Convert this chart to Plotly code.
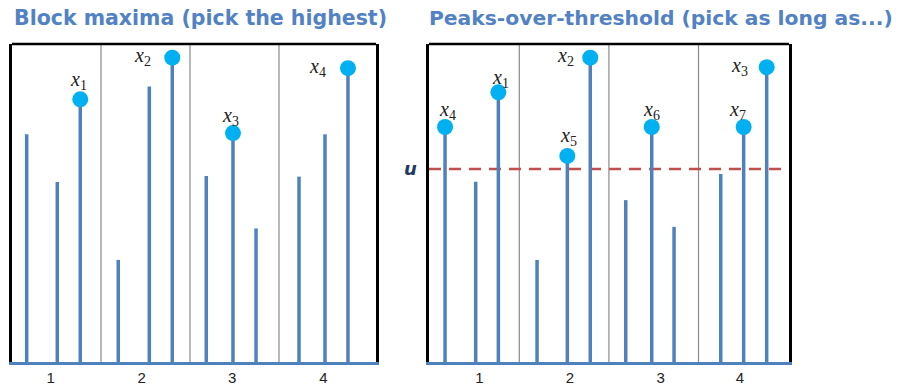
import plotly.graph_objects as go

# ---------------- data ----------------
block_labels = ["1", "2", "3", "4"]
block_dividers = [1.5, 2.5, 3.5]

left_times = [0.665, 1.009, 1.267, 1.694, 2.043, 2.301, 2.683, 2.983, 3.242, 3.725, 4.017, 4.275]
left_values = [7.16, 5.66, 8.26, 3.21, 8.66, 9.57, 5.85, 7.20, 4.20, 5.83, 7.16, 9.24]
left_peak_idx = [2, 5, 7, 11]
left_peak_names = ["1", "2", "3", "4"]

right_times = [0.671, 1.013, 1.266, 1.698, 2.036, 2.292, 2.688, 2.978, 3.227, 3.748, 4.004, 4.261]
right_values = [7.39, 5.67, 8.48, 3.21, 6.48, 9.57, 5.09, 7.39, 4.25, 5.91, 7.39, 9.27]
right_peak_idx = [0, 2, 4, 5, 7, 10, 11]
right_peak_names = ["4", "1", "5", "2", "6", "7", "3"]
threshold_u = 6.07

left_title = "Block maxima (pick the highest)"
right_title = "Peaks-over-threshold (pick as long as...)"

# ---------------- layout helpers (positions / styles) ----------------
left_tickpos = [0.935, 1.957, 2.975, 3.998]
right_tickpos = [1.054, 2.066, 3.078, 3.963]
left_label_shift = [(-2, 19), (-30, 1), (-2, 17), (-30, 1)]
right_label_shift = [(2, 17), (2, 14), (1, 19), (-25, 1), (0, 17), (-6, 17), (-27, 1)]

STEM = "#4F81BD"
DOT = "#00B0F0"
TITLE = "#5282C4"

fig = go.Figure()


def stems(times, values, xa, ya):
    xs, ys = [], []
    for t, v in zip(times, values):
        xs += [t, t, None]
        ys += [0, v, None]
    fig.add_trace(go.Scatter(x=xs, y=ys, mode="lines", line=dict(color=STEM, width=3.5),
                             xaxis=xa, yaxis=ya, hoverinfo="skip", showlegend=False))


def peaks(times, values, idx, names, shifts, xa, ya):
    px = [times[i] for i in idx]
    py = [values[i] for i in idx]
    fig.add_trace(go.Scatter(x=px, y=py, mode="markers",
                             marker=dict(color=DOT, size=16, line=dict(width=0)),
                             xaxis=xa, yaxis=ya, showlegend=False))
    for x, y, n, (dx, dy) in zip(px, py, names, shifts):
        fig.add_annotation(x=x, y=y, xref=xa, yref=ya, showarrow=False,
                           text="<i>x</i><sub>" + n + "</sub>", xshift=dx, yshift=dy,
                           font=dict(family="Liberation Serif", size=20, color="#222222"))


stems(left_times, left_values, "x", "y")
peaks(left_times, left_values, left_peak_idx, left_peak_names, left_label_shift, "x", "y")
stems(right_times, right_values, "x2", "y2")
peaks(right_times, right_values, right_peak_idx, right_peak_names, right_label_shift, "x2", "y2")

ydom = [25 / 387, 343 / 387]
axis_common = dict(showgrid=False, zeroline=False, ticks="", showline=True,
                   linecolor=STEM, linewidth=3,
                   tickfont=dict(family="Liberation Sans", size=15, color="#222222"))
yaxis_common = dict(showgrid=False, zeroline=False, showticklabels=False, ticks="",
                    showline=True, mirror=True, linecolor="black", linewidth=3,
                    range=[0, 10], domain=ydom)

fig.update_layout(
    width=903, height=387,
    margin=dict(l=0, r=0, t=0, b=0),
    paper_bgcolor="white", plot_bgcolor="white",
    xaxis=dict(axis_common, domain=[12 / 903, 376 / 903], range=[0.5, 4.59],
               tickvals=left_tickpos, ticktext=block_labels),
    yaxis=dict(yaxis_common, anchor="x"),
    xaxis2=dict(axis_common, domain=[429 / 903, 789 / 903], range=[0.492, 4.51],
                tickvals=right_tickpos, ticktext=block_labels, anchor="y2"),
    yaxis2=dict(yaxis_common, anchor="x2"),
)

# frame tops and block dividers
for xa, ya in (("x", "y"), ("x2", "y2")):
    fig.add_shape(type="line", xref=xa + " domain", yref=ya + " domain",
                  x0=0, x1=1, y0=1, y1=1, line=dict(color="black", width=2.5))
    for d in block_dividers:
        fig.add_shape(type="line", xref=xa, yref=ya + " domain", x0=d, x1=d, y0=0, y1=1,
                      line=dict(color="#8a8a8a", width=1.2), layer="below")

# threshold line
fig.add_shape(type="line", xref="x2 domain", yref="y2", x0=0, x1=1,
              y0=threshold_u, y1=threshold_u,
              line=dict(color="#C0504D", width=2.5, dash="12px,8px"), layer="below")
fig.add_annotation(x=0, y=threshold_u, xref="x2 domain", yref="y2", xanchor="right",
                   xshift=-10, showarrow=False, text="<b><i>u</i></b>",
                   font=dict(family="DejaVu Sans", size=18, color="#1F3864"))

# titles
fig.add_annotation(x=12 / 903, y=1 - 18 / 387, xref="paper", yref="paper", xanchor="left",
                   yanchor="middle", showarrow=False, text="<b>" + left_title + "</b>",
                   font=dict(family="DejaVu Sans", size=20.5, color=TITLE))
fig.add_annotation(x=427 / 903, y=1 - 18 / 387, xref="paper", yref="paper", xanchor="left",
                   yanchor="middle", showarrow=False, text="<b>" + right_title + "</b>",
                   font=dict(family="DejaVu Sans", size=20.3, color=TITLE))

fig.write_html("out.html", config={"displayModeBar": False},
               post_script="document.body.style.margin='0';document.body.style.padding='0';")
